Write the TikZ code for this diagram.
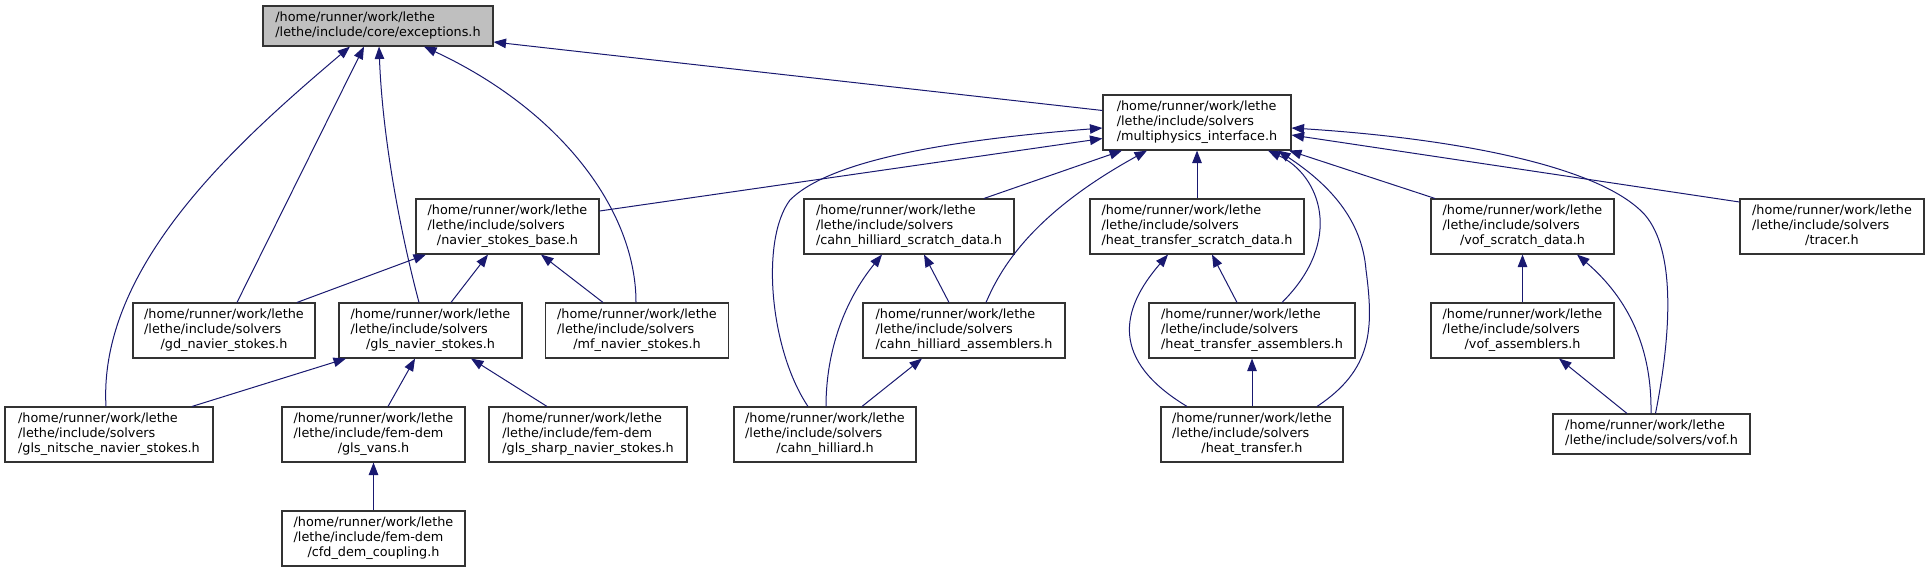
\documentclass[tikz,border=0pt]{standalone}
\usepackage{fontspec}
\setmainfont{DejaVu Sans}
\usetikzlibrary{arrows.meta}
\definecolor{edgeblue}{HTML}{191970}
\definecolor{rootfill}{HTML}{BFBFBF}
\definecolor{boxline}{HTML}{333333}
\newcommand\flab[3]{\begin{tabular}{@{}l@{}}#1\\#2\\\multicolumn{1}{@{}c@{}}{#3}\end{tabular}}
\newcommand\flabb[2]{\begin{tabular}{@{}l@{}}#1\\\multicolumn{1}{@{}c@{}}{#2}\end{tabular}}
\begin{document}
\begin{tikzpicture}[x=1pt,y=-1pt,
  box/.style={draw=boxline, line width=1.1pt, inner sep=0pt, fill=white,
    minimum height=55pt, font=\fontsize{12.8}{15}\selectfont},
  edge/.style={draw=edgeblue, line width=1pt, {Triangle[length=12.5pt,width=9.5pt]}-}]
\useasboundingbox (0,0) rectangle (1929,572);
% rank 0
\node[box, minimum width=230pt, minimum height=40pt, fill=rootfill] (exc) at (378,26)
  {\flabb{/home/runner/work/lethe}{/lethe/include/core/exceptions.h}};
% rank 1
\node[box, minimum width=188pt] (mpi) at (1197,122.5)
  {\flab{/home/runner/work/lethe}{/lethe/include/solvers}{/multiphysics\_interface.h}};
% rank 2
\node[box, minimum width=183pt] (nsb) at (507.5,226.5)
  {\flab{/home/runner/work/lethe}{/lethe/include/solvers}{/navier\_stokes\_base.h}};
\node[box, minimum width=210pt] (chs) at (909,226.5)
  {\flab{/home/runner/work/lethe}{/lethe/include/solvers}{/cahn\_hilliard\_scratch\_data.h}};
\node[box, minimum width=214pt] (hts) at (1197,226.5)
  {\flab{/home/runner/work/lethe}{/lethe/include/solvers}{/heat\_transfer\_scratch\_data.h}};
\node[box, minimum width=183pt] (vofs) at (1522.5,226.5)
  {\flab{/home/runner/work/lethe}{/lethe/include/solvers}{/vof\_scratch\_data.h}};
\node[box, minimum width=184pt] (tracer) at (1832,226.5)
  {\flab{/home/runner/work/lethe}{/lethe/include/solvers}{/tracer.h}};
% rank 3
\node[box, minimum width=182pt] (gd) at (224,330.5)
  {\flab{/home/runner/work/lethe}{/lethe/include/solvers}{/gd\_navier\_stokes.h}};
\node[box, minimum width=183pt] (gls) at (430.5,330.5)
  {\flab{/home/runner/work/lethe}{/lethe/include/solvers}{/gls\_navier\_stokes.h}};
\node[box, minimum width=183pt] (mf) at (637,330.5)
  {\flab{/home/runner/work/lethe}{/lethe/include/solvers}{/mf\_navier\_stokes.h}};
\node[box, minimum width=202pt] (cha) at (964,330.5)
  {\flab{/home/runner/work/lethe}{/lethe/include/solvers}{/cahn\_hilliard\_assemblers.h}};
\node[box, minimum width=206pt] (hta) at (1252,330.5)
  {\flab{/home/runner/work/lethe}{/lethe/include/solvers}{/heat\_transfer\_assemblers.h}};
\node[box, minimum width=183pt] (vofa) at (1522.5,330.5)
  {\flab{/home/runner/work/lethe}{/lethe/include/solvers}{/vof\_assemblers.h}};
% rank 4
\node[box, minimum width=208pt] (nit) at (109,434.5)
  {\flab{/home/runner/work/lethe}{/lethe/include/solvers}{/gls\_nitsche\_navier\_stokes.h}};
\node[box, minimum width=183pt] (vans) at (373.5,434.5)
  {\flab{/home/runner/work/lethe}{/lethe/include/fem-dem}{/gls\_vans.h}};
\node[box, minimum width=198pt] (sharp) at (588,434.5)
  {\flab{/home/runner/work/lethe}{/lethe/include/fem-dem}{/gls\_sharp\_navier\_stokes.h}};
\node[box, minimum width=182pt] (ch) at (825,434.5)
  {\flab{/home/runner/work/lethe}{/lethe/include/solvers}{/cahn\_hilliard.h}};
\node[box, minimum width=182pt] (ht) at (1252,434.5)
  {\flab{/home/runner/work/lethe}{/lethe/include/solvers}{/heat\_transfer.h}};
\node[box, minimum width=197pt, minimum height=40pt] (vof) at (1651.5,434)
  {\flabb{/home/runner/work/lethe}{/lethe/include/solvers/vof.h}};
% rank 5
\node[box, minimum width=183pt] (cfd) at (373.5,538.5)
  {\flab{/home/runner/work/lethe}{/lethe/include/fem-dem}{/cfd\_dem\_coupling.h}};

% edges into exceptions
\draw[edge] ([yshift=-16pt]exc.east) -- ([yshift=12pt]mpi.west);
\draw[edge] ([xshift=-28pt]exc.south) .. controls (240,140) and (98,265) .. ([xshift=-3pt]nit.north);
\draw[edge] ([xshift=-14pt]exc.south) -- ([xshift=13pt]gd.north);
\draw[edge] ([xshift=1pt]exc.south) .. controls (383,150) and (405,250) .. ([xshift=-11.5pt]gls.north);
\draw[edge] ([xshift=46pt]exc.south) .. controls (560,110) and (636,210) .. ([xshift=-1pt]mf.north);
% edges into multiphysics
\draw[edge] ([yshift=-16pt]mpi.west) -- ([yshift=15.5pt]nsb.east);
\draw[edge] ([yshift=-5.5pt]mpi.west) .. controls (950,140) and (830,160) .. (790,200)
  .. controls (760,240) and (770,350) .. ([xshift=-17pt]ch.north);
\draw[edge] ([xshift=-75pt]mpi.south) -- ([xshift=75pt]chs.north);
\draw[edge] ([xshift=-50pt]mpi.south) .. controls (1030,215) and (1000,270) .. ([xshift=22pt]cha.north);
\draw[edge] (mpi.south) -- (hts.north);
\draw[edge] ([xshift=71pt]mpi.south) .. controls (1320,175) and (1345,240) .. ([xshift=30pt]hta.north);
\draw[edge] ([xshift=81pt]mpi.south) .. controls (1330,185) and (1362,220) .. (1366,270)
  .. controls (1374,330) and (1372,370) .. ([xshift=65pt]ht.north);
\draw[edge] ([xshift=92pt]mpi.south) -- ([xshift=-87.5pt]vofs.north);
\draw[edge] ([yshift=-5.5pt]mpi.east) .. controls (1450,138) and (1600,165) .. (1645,215)
  .. controls (1675,250) and (1672,330) .. ([xshift=4pt]vof.north);
\draw[edge] ([yshift=-12.5pt]mpi.east) -- ([yshift=24.5pt]tracer.west);
% edges into navier_stokes_base
\draw[edge] ([xshift=-81.5pt]nsb.south) -- ([xshift=73pt]gd.north);
\draw[edge] ([xshift=-19.5pt]nsb.south) -- ([xshift=20.5pt]gls.north);
\draw[edge] ([xshift=33.5pt]nsb.south) -- ([xshift=-34pt]mf.north);
% edges into gls_navier_stokes
\draw[edge] ([xshift=-84.5pt]gls.south) -- ([xshift=83pt]nit.north);
\draw[edge] ([xshift=-15.5pt]gls.south) -- ([xshift=14.5pt]vans.north);
\draw[edge] ([xshift=40.5pt]gls.south) -- ([xshift=-41pt]sharp.north);
\draw[edge] (vans.south) -- (cfd.north);
% cahn hilliard group
\draw[edge] ([xshift=-27pt]chs.south) .. controls (845,300) and (826,350) .. ([xshift=1pt]ch.north);
\draw[edge] ([xshift=15pt]chs.south) -- ([xshift=-15pt]cha.north);
\draw[edge] ([xshift=-42pt]cha.south) -- ([xshift=37pt]ch.north);
% heat transfer group
\draw[edge] ([xshift=-29pt]hts.south) .. controls (1120,310) and (1110,360) .. ([xshift=-65pt]ht.north);
\draw[edge] ([xshift=15pt]hts.south) -- ([xshift=-15pt]hta.north);
\draw[edge] (hta.south) -- (ht.north);
% vof group
\draw[edge] (vofs.south) -- (vofa.north);
\draw[edge] ([xshift=54.5pt]vofs.south) .. controls (1630,300) and (1652,350) .. ([xshift=-0.5pt]vof.north);
\draw[edge] ([xshift=36.5pt]vofa.south) -- ([xshift=-24.5pt]vof.north);
\end{tikzpicture}
\end{document}
